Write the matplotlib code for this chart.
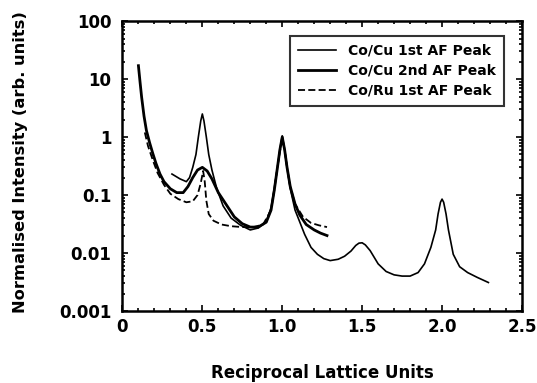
import matplotlib
matplotlib.use("Agg")
import matplotlib.pyplot as plt
from matplotlib.ticker import MultipleLocator, LogLocator, FixedLocator, NullFormatter

plt.rcParams['font.family'] = ['DejaVu Sans']
plt.rcParams['font.weight'] = 'bold'

# Co/Cu 1st AF peak (thin solid)
x_cu1 = [0.31, 0.36, 0.40, 0.42, 0.44, 0.46, 0.475, 0.49, 0.50, 0.51, 0.525, 0.54, 0.56,
         0.59, 0.63, 0.68, 0.74, 0.80, 0.85, 0.90, 0.93, 0.95, 0.97, 0.985, 1.00, 1.015,
         1.03, 1.05, 1.08, 1.10, 1.14, 1.18, 1.22, 1.26, 1.30, 1.35, 1.39, 1.43, 1.46,
         1.48, 1.50, 1.52, 1.55, 1.60, 1.65, 1.70, 1.75, 1.80, 1.85, 1.89, 1.93, 1.96,
         1.975, 1.99, 2.00, 2.01, 2.025, 2.04, 2.07, 2.11, 2.16, 2.22, 2.29]
y_cu1 = [0.23, 0.19, 0.17, 0.20, 0.30, 0.5, 1.0, 1.9, 2.5, 1.9, 1.0, 0.5, 0.27,
         0.13, 0.065, 0.040, 0.030, 0.025, 0.027, 0.035, 0.06, 0.13, 0.3, 0.6, 1.05, 0.6,
         0.3, 0.13, 0.055, 0.04, 0.021, 0.0125, 0.0095, 0.008, 0.0074, 0.0078, 0.0088,
         0.0108, 0.0135, 0.0148, 0.015, 0.0138, 0.011, 0.0065, 0.0048, 0.0042, 0.0040,
         0.0040, 0.0046, 0.0065, 0.0125, 0.025, 0.047, 0.075, 0.085, 0.075, 0.047, 0.025,
         0.0095, 0.0058, 0.0046, 0.0038, 0.0031]

# Co/Cu 2nd AF peak (thick solid)
x_cu2 = [0.10, 0.11, 0.12, 0.135, 0.15, 0.17, 0.19, 0.21, 0.235, 0.26, 0.30, 0.34, 0.38,
         0.41, 0.44, 0.47, 0.50, 0.53, 0.56, 0.60, 0.65, 0.70, 0.75, 0.80, 0.85, 0.90,
         0.93, 0.95, 0.97, 0.985, 1.00, 1.015, 1.03, 1.05, 1.08, 1.11, 1.15, 1.20, 1.24,
         1.28]
y_cu2 = [17, 9, 4.9, 2.3, 1.3, 0.8, 0.52, 0.35, 0.23, 0.17, 0.128, 0.11, 0.11, 0.14,
         0.2, 0.27, 0.30, 0.26, 0.19, 0.11, 0.068, 0.042, 0.032, 0.028, 0.028, 0.034,
         0.055, 0.12, 0.3, 0.6, 1.0, 0.6, 0.3, 0.14, 0.07, 0.045, 0.031, 0.025, 0.022,
         0.020]

# Co/Ru 1st AF peak (dashed)
x_ru1 = [0.14, 0.16, 0.19, 0.22, 0.26, 0.30, 0.35, 0.40, 0.44, 0.47, 0.49, 0.505, 0.515,
         0.525, 0.54, 0.57, 0.62, 0.68, 0.75, 0.82, 0.88, 0.93, 0.95, 0.97, 0.985, 1.00,
         1.015, 1.03, 1.05, 1.08, 1.13, 1.18, 1.23, 1.28]
y_ru1 = [1.2, 0.7, 0.4, 0.24, 0.15, 0.105, 0.085, 0.075, 0.078, 0.10, 0.16, 0.26, 0.17,
         0.08, 0.047, 0.036, 0.031, 0.029, 0.028, 0.028, 0.031, 0.055, 0.12, 0.3, 0.55,
         0.95, 0.6, 0.3, 0.14, 0.07, 0.042, 0.033, 0.030, 0.028]

x_ticks = [0, 0.5, 1.0, 1.5, 2.0, 2.5]
x_ticklabels = ['0', '0.5', '1.0', '1.5', '2.0', '2.5']
y_ticks = [0.001, 0.01, 0.1, 1, 10, 100]
y_ticklabels = ['0.001', '0.01', '0.1', '1', '10', '100']
labels = ['Co/Cu 1st AF Peak', 'Co/Cu 2nd AF Peak', 'Co/Ru 1st AF Peak']

fig = plt.figure(figsize=(5.37, 3.83), dpi=100)
ax = fig.add_axes([0.228, 0.188, 0.744, 0.757])

ax.plot(x_cu1, y_cu1, color='black', lw=1.2, label=labels[0])
ax.plot(x_cu2, y_cu2, color='black', lw=2.0, label=labels[1])
ax.plot(x_ru1, y_ru1, color='black', lw=1.3, ls=(0, (3.9, 1.8)), label=labels[2])

ax.set_yscale('log')
ax.set_xlim(0, 2.5)
ax.set_ylim(0.001, 100)
ax.xaxis.set_major_locator(FixedLocator(x_ticks))
ax.set_xticklabels(x_ticklabels)
ax.xaxis.set_minor_locator(MultipleLocator(0.1))
ax.yaxis.set_major_locator(FixedLocator(y_ticks))
ax.set_yticklabels(y_ticklabels)
ax.yaxis.set_minor_locator(LogLocator(base=10, subs=range(2, 10), numticks=20))
ax.yaxis.set_minor_formatter(NullFormatter())

ax.tick_params(which='both', direction='in', top=True, right=True, width=1.2)
ax.tick_params(which='major', length=4, labelsize=12)
ax.tick_params(axis='y', which='major', pad=8)
ax.tick_params(axis='x', which='major', pad=5)
ax.tick_params(which='minor', length=2)
for s in ax.spines.values():
    s.set_linewidth(1.8)
for t in ax.get_xticklabels() + ax.get_yticklabels():
    t.set_fontweight('bold')

ax.set_xlabel('Reciprocal Lattice Units', fontsize=12, fontweight='bold', labelpad=20)
ax.set_ylabel('Normalised Intensity (arb. units)', fontsize=11.7, fontweight='bold')
ax.yaxis.set_label_coords(-0.237, 0.515)

leg = ax.legend(loc='upper right', bbox_to_anchor=(0.955, 0.95), fontsize=10,
                frameon=True, fancybox=False, edgecolor='black', handlelength=2.7,
                borderpad=0.6, labelspacing=0.42, handletextpad=0.85, borderaxespad=0)
leg.get_frame().set_linewidth(1.5)
for t in leg.get_texts():
    t.set_fontweight('bold')

fig.savefig('out.png', dpi=100)
